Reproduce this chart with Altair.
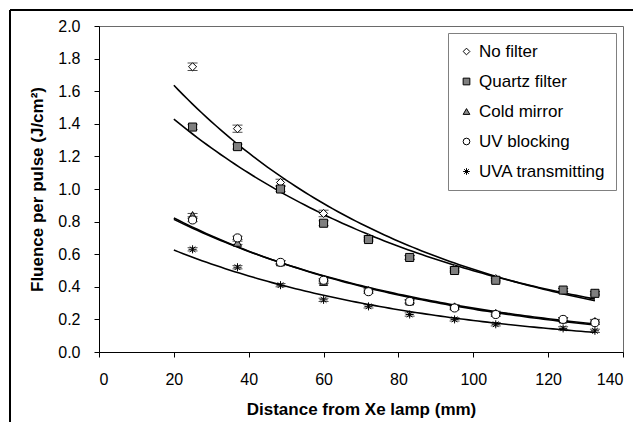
import altair as alt
import pandas as pd

# ---- data ----
distance = [25, 37, 48.5, 60, 72, 83, 95, 106, 124, 132.5]
no_filter = [1.75, 1.37, 1.04, 0.85, 0.70, 0.58, 0.51, 0.45, 0.38, 0.36]
quartz_filter = [1.38, 1.26, 1.00, 0.79, 0.69, 0.58, 0.50, 0.44, 0.38, 0.36]
cold_mirror = [0.84, 0.67, 0.55, 0.43, 0.38, 0.31, 0.28, 0.24, 0.20, 0.19]
uv_blocking = [0.81, 0.70, 0.55, 0.44, 0.37, 0.31, 0.27, 0.23, 0.20, 0.18]
uva_transmitting = [0.63, 0.52, 0.41, 0.32, 0.28, 0.23, 0.20, 0.17, 0.145, 0.13]

err_no_filter = [0.023, 0.022, 0.02, 0.02, 0.012, 0.012, 0.012, 0.01, 0.01, 0.01]
err_quartz = [0.015, 0.015, 0.015, 0.015, 0.01, 0.01, 0.01, 0.01, 0.01, 0.01]
err_other = [0.01] * 10

series_names = ["No filter", "Quartz filter", "Cold mirror", "UV blocking", "UVA transmitting"]
series_values = [no_filter, quartz_filter, cold_mirror, uv_blocking, uva_transmitting]
series_errors = [err_no_filter, err_quartz, err_other, err_other, err_other]

x_ticks = [0, 20, 40, 60, 80, 100, 120, 140]
y_ticks = [0.0, 0.2, 0.4, 0.6, 0.8, 1.0, 1.2, 1.4, 1.6, 1.8, 2.0]

ASTERISK = "M-1,0L1,0M0,-1L0,1M-0.7,-0.7L0.7,0.7M-0.7,0.7L0.7,-0.7"
shapes = ["diamond", "square", "triangle-up", "circle", ASTERISK]
fills = ["white", "#7f7f7f", "#8c8c8c", "white", "black"]

rows = []
for name, vals, errs in zip(series_names, series_values, series_errors):
    for d, v, e in zip(distance, vals, errs):
        rows.append({"series": name, "distance": d, "fluence": v, "err": e})
df = pd.DataFrame(rows)

FONT = "Liberation Sans"
X_TITLE = "Distance from Xe lamp (mm)"
Y_TITLE = "Fluence per pulse (J/cm²)"

x_scale = alt.Scale(domain=[0, 140], nice=False)
y_scale = alt.Scale(domain=[0, 2], nice=False)
x_axis = alt.Axis(values=x_ticks, title=X_TITLE, titlePadding=14, labelPadding=14,
                  labelOverlap=False)
y_axis = alt.Axis(values=y_ticks, format=".1f", title=Y_TITLE, titlePadding=11, labelPadding=14,
                  labelOverlap=False)

base = alt.Chart(df)

# Excel-style exponential trendline: linear least squares on ln(y), evaluated over 20..132.5
curves = base.transform_calculate(
    lny="log(datum.fluence)"
).transform_regression(
    "distance", "lny", method="linear", groupby=["series"], params=True
).transform_calculate(
    grp="datum.keys[0]",
    xs="sequence(20, 133.75, 1.25)",
).transform_flatten(
    ["xs"]
).transform_calculate(
    fit="exp(datum.coef[0] + datum.coef[1] * datum.xs)"
).mark_line(color="black", strokeWidth=1.6).encode(
    x=alt.X("xs:Q", scale=x_scale, axis=x_axis),
    y=alt.Y("fit:Q", scale=y_scale, axis=y_axis),
    detail="grp:N",
    order="xs:Q",
)

errbars = base.transform_calculate(
    lo="datum.fluence - datum.err", hi="datum.fluence + datum.err"
).mark_errorbar(ticks={"size": 10}, color="black").encode(
    x=alt.X("distance:Q", scale=x_scale, axis=x_axis),
    y=alt.Y("lo:Q", scale=y_scale, axis=y_axis), y2="hi:Q", detail="series:N"
)

legend = alt.Legend(
    title=None, orient="none", legendX=349, legendY=7,
    strokeColor="#808080", fillColor="white", padding=10,
    labelFont=FONT, labelFontSize=17, labelColor="black",
    rowPadding=12, symbolStrokeWidth=1,
    symbolSize=45, labelOffset=4,
)

points = base.mark_point(filled=False, strokeWidth=1, size=65, opacity=1).encode(
    x=alt.X("distance:Q", scale=x_scale, axis=x_axis),
    y=alt.Y("fluence:Q", scale=y_scale, axis=y_axis),
    shape=alt.Shape("series:N", scale=alt.Scale(domain=series_names, range=shapes),
                    sort=series_names, legend=legend),
    fill=alt.Fill("series:N", scale=alt.Scale(domain=series_names, range=fills),
                  sort=series_names, legend=legend),
    stroke=alt.Stroke("series:N", scale=alt.Scale(domain=series_names, range=["black"] * 5),
                      sort=series_names, legend=legend),
)

one = pd.DataFrame({"a": [0]})
frame_top = alt.Chart(one).mark_rule(color="black", strokeWidth=2).encode(
    x=alt.value(-89), x2=alt.value(560), y=alt.value(-16))
frame_left = alt.Chart(one).mark_rule(color="black", strokeWidth=2).encode(
    x=alt.value(-89), y=alt.value(-16), y2=alt.value(430))

chart = alt.layer(frame_top, frame_left, curves, errbars, points).properties(
    width=524, height=326,
    background="white",
    autosize=alt.AutoSizeParams(type="none"),
    padding={"left": 91, "top": 18, "right": 10, "bottom": 70},
).configure_view(
    stroke="#6a6a6a", strokeWidth=1
).configure_axis(
    grid=False, labelFont=FONT, labelFontSize=16, labelColor="black",
    titleFont=FONT, titleFontSize=17, titleFontWeight="bold", titleColor="black",
    domainColor="black", tickColor="black", tickSize=5, labelOverlap=False,
)

chart.save("out.html", embed_options={"renderer": "svg", "actions": False})
